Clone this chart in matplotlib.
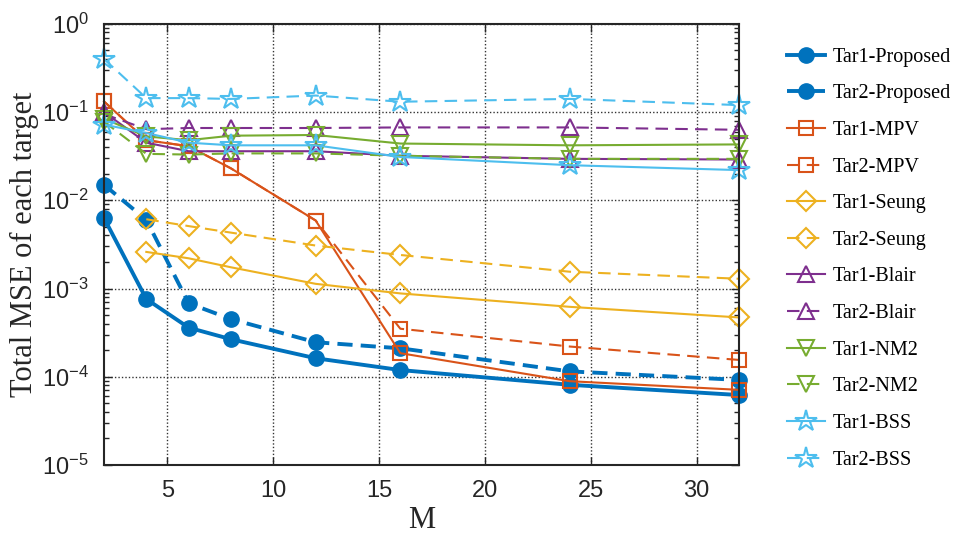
import numpy as np
import matplotlib.pyplot as plt
from matplotlib.ticker import LogLocator, NullFormatter

M = [2, 4, 6, 8, 12, 16, 24, 32]
M_seung = [4, 6, 8, 12, 16, 24, 32]

tar1_proposed = [6.3e-3, 7.6e-4, 3.6e-4, 2.66e-4, 1.62e-4, 1.19e-4, 8.1e-5, 6.2e-5]
tar2_proposed = [1.5e-2, 6.0e-3, 6.8e-4, 4.5e-4, 2.46e-4, 2.1e-4, 1.15e-4, 9.2e-5]
tar1_mpv = [0.132, 0.048, 0.041, 0.023, 5.9e-3, 1.85e-4, 8.9e-5, 7.1e-5]
tar2_mpv = [0.132, 0.048, 0.041, 0.023, 5.9e-3, 3.5e-4, 2.2e-4, 1.55e-4]
tar1_seung = [2.6e-3, 2.2e-3, 1.74e-3, 1.13e-3, 8.8e-4, 6.2e-4, 4.7e-4]
tar2_seung = [6.1e-3, 5.1e-3, 4.3e-3, 3.07e-3, 2.4e-3, 1.55e-3, 1.29e-3]
tar1_blair = [0.1, 0.045, 0.036, 0.036, 0.036, 0.032, 0.0295, 0.029]
tar2_blair = [0.095, 0.064, 0.066, 0.066, 0.066, 0.067, 0.067, 0.063]
tar1_nm2 = [0.084, 0.053, 0.048, 0.054, 0.055, 0.044, 0.042, 0.043]
tar2_nm2 = [0.078, 0.0336, 0.033, 0.034, 0.034, 0.032, 0.0295, 0.0295]
tar1_bss = [0.072, 0.058, 0.045, 0.042, 0.042, 0.031, 0.025, 0.022]
tar2_bss = [0.40, 0.144, 0.144, 0.141, 0.154, 0.131, 0.141, 0.12]

# MATLAB default colours
c_blue, c_orange, c_yellow = '#0072BD', '#D95319', '#EDB120'
c_purple, c_green, c_cyan = '#7E2F8E', '#77AC30', '#4DBEEE'

plt.rcParams['font.family'] = 'Liberation Sans'
plt.rcParams['mathtext.fontset'] = 'custom'
plt.rcParams['mathtext.rm'] = 'Liberation Sans'
plt.rcParams['mathtext.it'] = 'Liberation Sans:italic'
plt.rcParams['mathtext.bf'] = 'Liberation Sans:bold'

fig = plt.figure(figsize=(9.61, 5.40), dpi=100)
ax = fig.add_axes([0.1082, 0.139, 0.6608, 0.8168])

dash = (0, (6, 3.5))
dash_thick = (0, (3.9, 2.1))
open_kw = dict(markerfacecolor='none', markeredgewidth=1.5, linewidth=1.5, clip_on=False)

ax.plot(M, tar1_proposed, '-', color=c_blue, lw=2.8, marker='o', ms=11, clip_on=False, label='Tar1-Proposed')
ax.plot(M, tar2_proposed, linestyle=dash_thick, color=c_blue, lw=2.8, marker='o', ms=11, clip_on=False, label='Tar2-Proposed')
ax.plot(M, tar1_mpv, '-', color=c_orange, marker='s', ms=10, label='Tar1-MPV', **open_kw)
ax.plot(M, tar2_mpv, linestyle=dash, color=c_orange, marker='s', ms=10, label='Tar2-MPV', **open_kw)
ax.plot(M_seung, tar1_seung, '-', color=c_yellow, marker='D', ms=10, label='Tar1-Seung', **open_kw)
ax.plot(M_seung, tar2_seung, linestyle=dash, color=c_yellow, marker='D', ms=10, label='Tar2-Seung', **open_kw)
ax.plot(M, tar1_blair, '-', color=c_purple, marker='^', ms=12, label='Tar1-Blair', **open_kw)
ax.plot(M, tar2_blair, linestyle=dash, color=c_purple, marker='^', ms=12, label='Tar2-Blair', **open_kw)
ax.plot(M, tar1_nm2, '-', color=c_green, marker='v', ms=12, label='Tar1-NM2', **open_kw)
ax.plot(M, tar2_nm2, linestyle=dash, color=c_green, marker='v', ms=12, label='Tar2-NM2', **open_kw)
ax.plot(M, tar1_bss, '-', color=c_cyan, marker='*', ms=16, label='Tar1-BSS', **open_kw)
ax.plot(M, tar2_bss, linestyle=dash, color=c_cyan, marker='*', ms=16, label='Tar2-BSS', **open_kw)

ax.set_yscale('log')
ax.set_xlim(2, 32)
ax.set_ylim(1e-5, 1)
ax.set_xticks([5, 10, 15, 20, 25, 30])
ax.yaxis.set_major_locator(LogLocator(base=10, numticks=10))
ax.yaxis.set_minor_locator(LogLocator(base=10, subs=np.arange(2, 10), numticks=10))
ax.yaxis.set_minor_formatter(NullFormatter())
ax.grid(True, which='major', linestyle=(0, (1, 1.5)), color='#333333', linewidth=1.0)
ax.tick_params(which='both', direction='in', top=True, right=True, colors='#262626',
               labelsize=17, width=1.0)
ax.tick_params(which='major', length=6)
ax.tick_params(which='minor', length=3.5)
ax.tick_params(axis='x', pad=11)
ax.tick_params(axis='y', pad=11)
for s in ax.spines.values():
    s.set_linewidth(1.5)
    s.set_color('#262626')

ax.set_xlabel('M', fontfamily='Liberation Serif', fontsize=22, color='#262626', labelpad=3)
ax.set_ylabel('Total MSE of each target', fontfamily='Liberation Serif', fontsize=22,
              color='#262626', labelpad=2)

ax.legend(loc='upper left', bbox_to_anchor=(1.0756, 0.946), frameon=False,
          prop={'family': 'Liberation Serif', 'size': 14.5}, handlelength=1.9,
          labelspacing=0.87, handletextpad=0.35, borderpad=0, borderaxespad=0)

fig.savefig('out.png', dpi=100)
